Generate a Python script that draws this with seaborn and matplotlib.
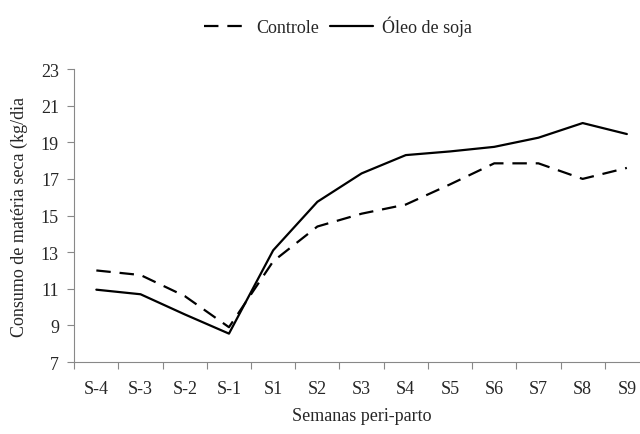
import numpy as np
import pandas as pd
import matplotlib
matplotlib.use('Agg')
import matplotlib.pyplot as plt
import seaborn as sns

# dados
semanas = ['S-4', 'S-3', 'S-2', 'S-1', 'S1', 'S2', 'S3', 'S4', 'S5', 'S6', 'S7', 'S8', 'S9']
controle = [12.0, 11.75, 10.6, 8.9, 12.5, 14.4, 15.1, 15.6, 16.7, 17.85, 17.85, 17.0, 17.6]
oleo_soja = [10.95, 10.7, 9.6, 8.55, 13.1, 15.75, 17.3, 18.3, 18.5, 18.75, 19.25, 20.05, 19.45]
y_ticks = [7, 9, 11, 13, 15, 17, 19, 21, 23]

sns.set_style('white')
plt.rcParams['font.family'] = ['Liberation Serif', 'DejaVu Serif']
fs = 13

df = pd.concat([
    pd.DataFrame({'semana': semanas, 'cms': controle, 'grupo': 'Controle'}),
    pd.DataFrame({'semana': semanas, 'cms': oleo_soja, 'grupo': 'Óleo de soja'}),
])

fig = plt.figure(figsize=(6.4, 4.35), dpi=100)
ax = fig.add_axes([0.116, 0.1655, 0.898, 0.6735])

sns.lineplot(data=df, x='semana', y='cms', hue='grupo', style='grupo',
             palette={'Controle': 'black', 'Óleo de soja': 'black'},
             dashes={'Controle': (6.5, 4), 'Óleo de soja': ''},
             linewidth=1.6, ax=ax, legend=True, sort=False)

ax.set_ylim(7, 23)
ax.set_yticks(y_ticks)
ax.set_xlim(-0.5, len(semanas) - 0.5)

# ticks entre as categorias (estilo Excel)
ax.set_xticks(np.arange(-0.5, len(semanas), 1.0))
ax.set_xticklabels([])
ax.set_xticks(np.arange(len(semanas)), minor=True)
ax.set_xticklabels(semanas, minor=True)
ax.tick_params(axis='x', which='major', length=5, width=0.8, color='#888888', direction='out', bottom=True)
ax.tick_params(axis='x', which='minor', length=0, pad=13, labelsize=fs)
ax.tick_params(axis='y', length=5, width=0.8, color='#888888', direction='out', left=True, labelsize=fs, pad=6)

for s in ['top', 'right']:
    ax.spines[s].set_visible(False)
for s in ['left', 'bottom']:
    ax.spines[s].set_color('#888888')
    ax.spines[s].set_linewidth(0.8)

ax.set_xlabel('Semanas peri-parto', fontsize=fs, labelpad=7)
ax.set_ylabel('Consumo de matéria seca (kg/dia', fontsize=fs, labelpad=9)

handles, labels = ax.get_legend_handles_labels()
ax.legend(handles, labels, loc='center', bbox_to_anchor=(338 / 640, 1 - 27 / 435),
          bbox_transform=fig.transFigure, ncol=2, frameon=False, fontsize=fs,
          handlelength=2.4, handletextpad=0.5, columnspacing=0.6)

fig.savefig('out.png', dpi=100)
